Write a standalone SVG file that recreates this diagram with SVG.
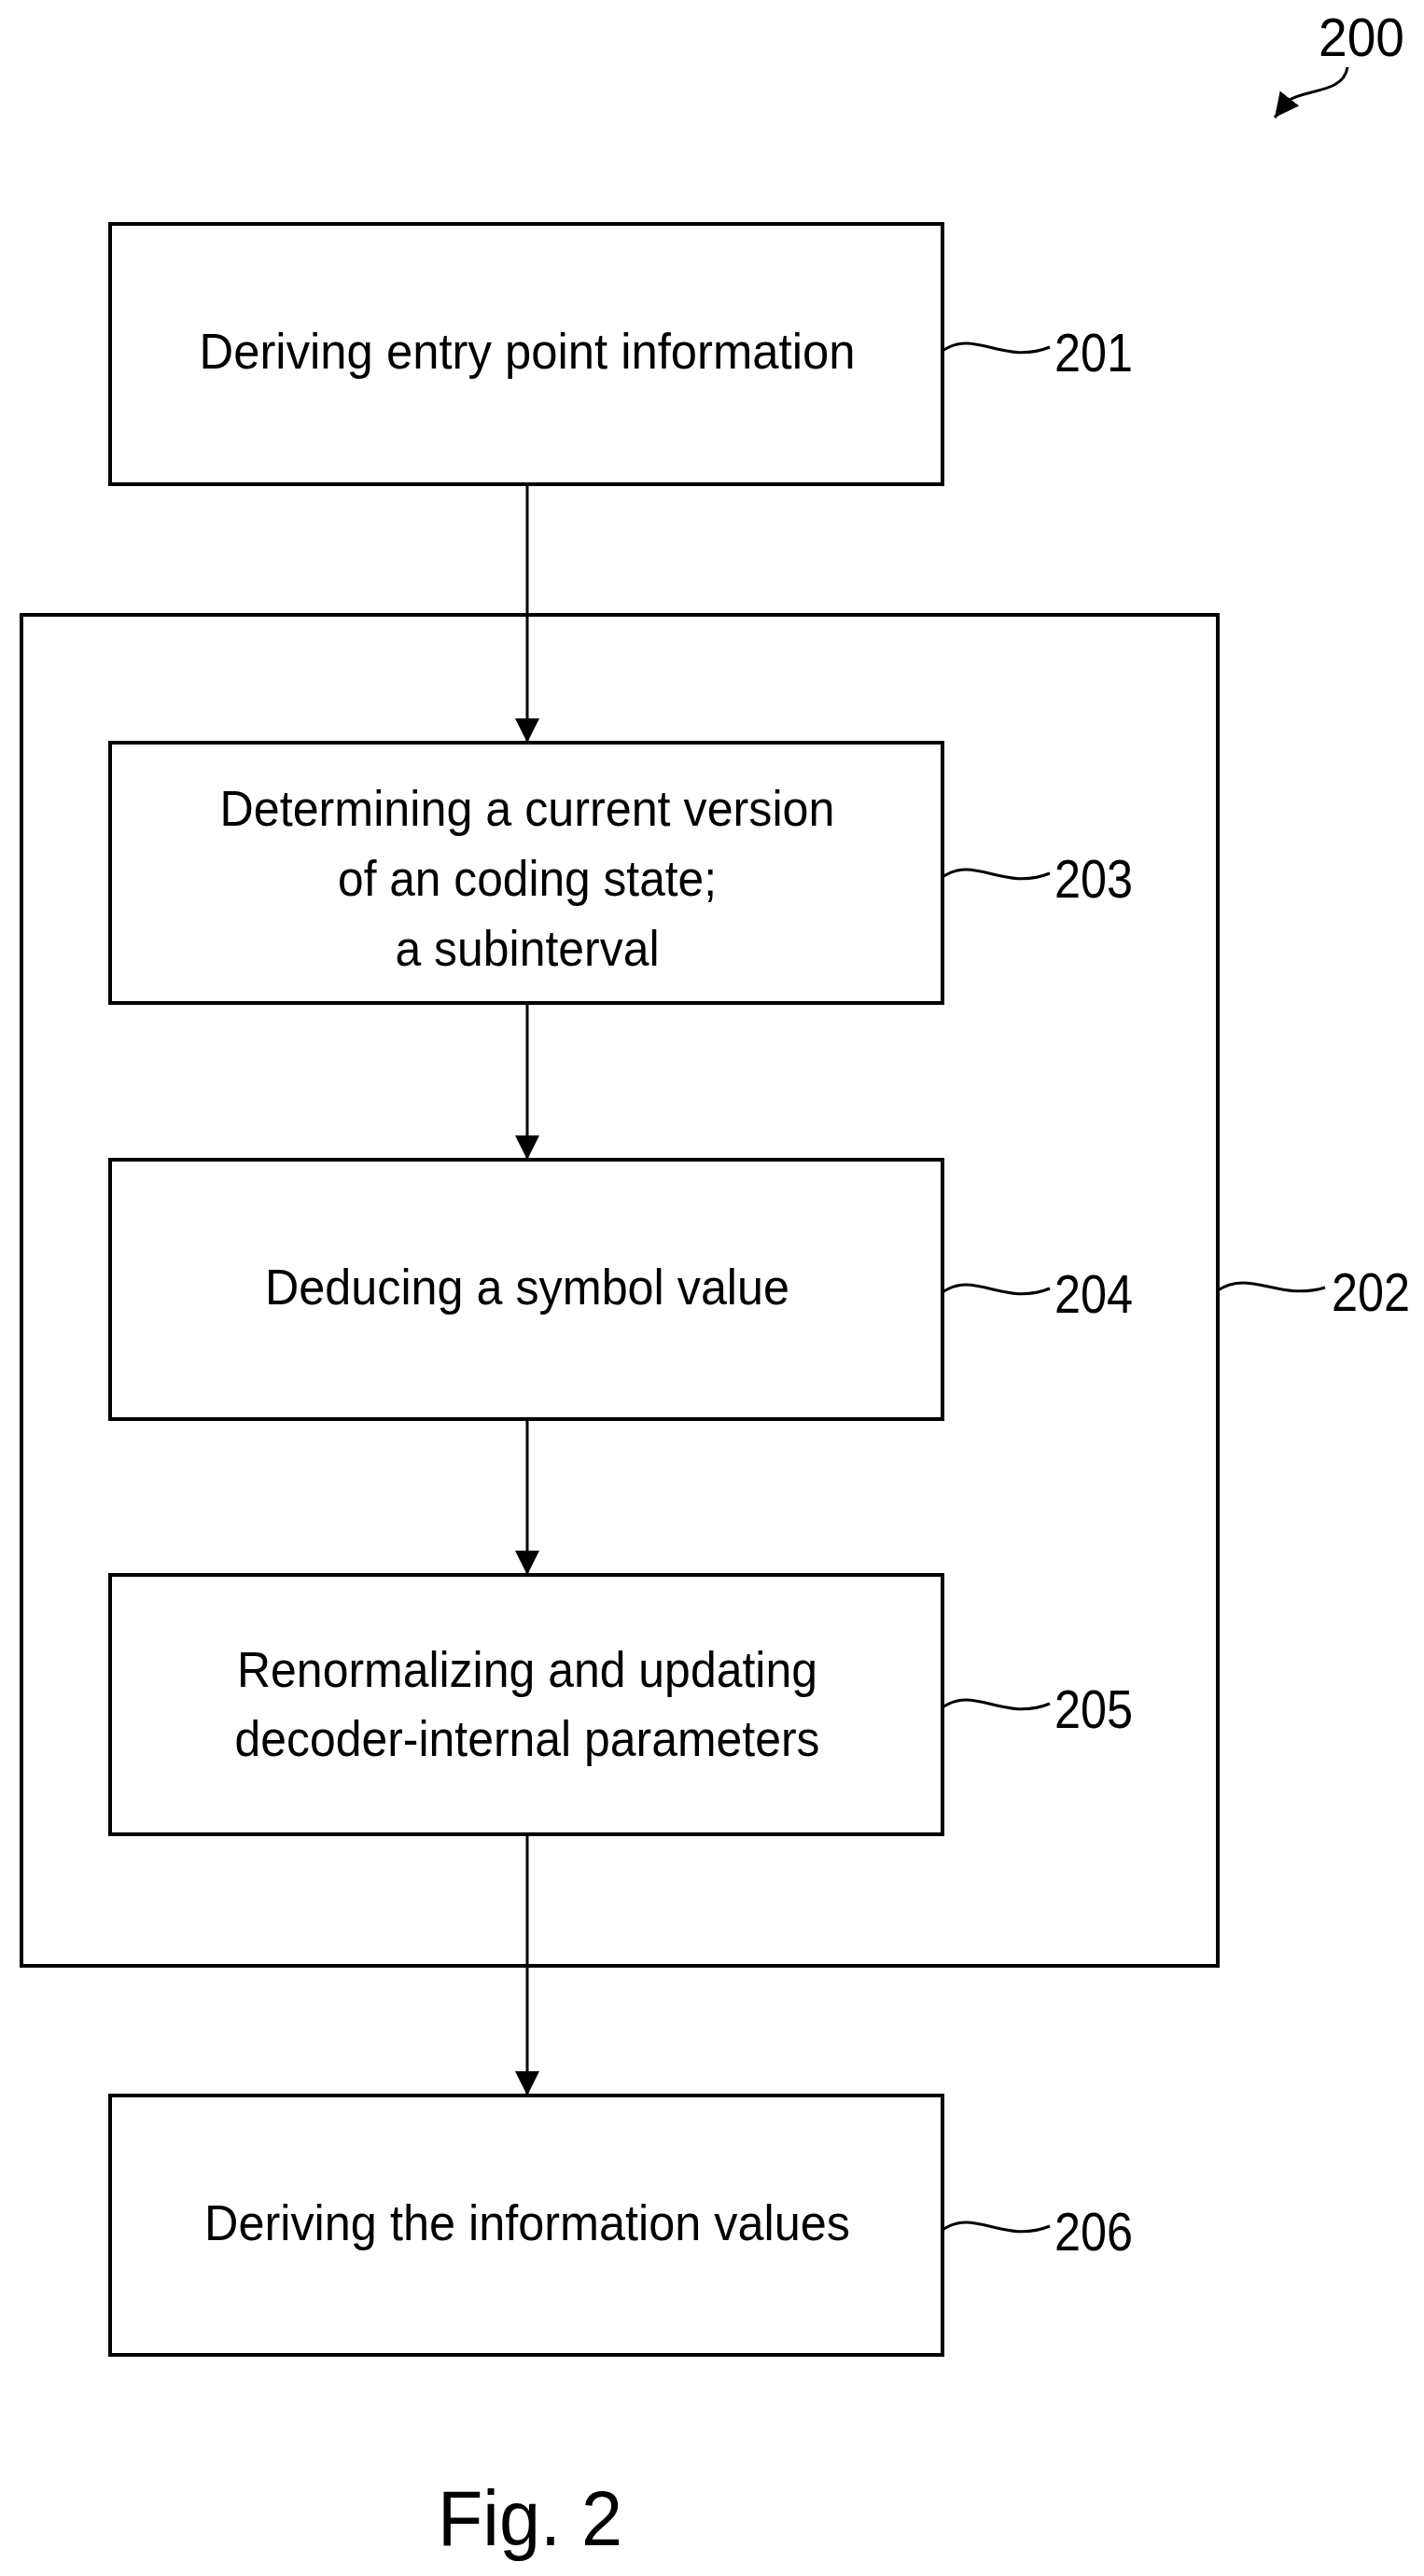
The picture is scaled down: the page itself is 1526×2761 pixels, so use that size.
<svg xmlns="http://www.w3.org/2000/svg" width="1526" height="2761" viewBox="0 0 1526 2761">
<style>
.b{fill:#fff;stroke:#000;stroke-width:4}
.o{fill:none;stroke:#000;stroke-width:4}
.t{font-family:"Liberation Sans",Arial,sans-serif;font-size:54px;text-anchor:middle;fill:#000}
.l{font-family:"Liberation Sans",Arial,sans-serif;font-size:58px;fill:#000}
.c{fill:none;stroke:#000;stroke-width:3}
.s{fill:none;stroke:#000;stroke-width:3}
</style>
<defs><marker id="a" markerWidth="10" markerHeight="12" refX="9" refY="6" orient="auto" markerUnits="userSpaceOnUse" viewBox="0 0 10 12"><path d="M0,0L10,6L0,12z"/></marker>
<marker id="ah" viewBox="0 0 20 20" refX="20" refY="10" markerWidth="26" markerHeight="26" orient="auto" markerUnits="userSpaceOnUse"><path d="M0,0L20,10L0,20z"/></marker></defs>
<rect width="1526" height="2761" fill="#fff"/>
<g id="n202"><rect class="o" x="23" y="659" width="1282" height="1448"/>
<path class="s" d="M1305,1383 C1340,1360 1370,1395 1420,1380"/><text class="l" x="1427" y="1405" textLength="84" lengthAdjust="spacingAndGlyphs">202</text></g>
<g id="connectors">
<line class="c" x1="565" y1="519" x2="565" y2="796" marker-end="url(#ah)"/>
<line class="c" x1="565" y1="1075" x2="565" y2="1243" marker-end="url(#ah)"/>
<line class="c" x1="565" y1="1521" x2="565" y2="1688" marker-end="url(#ah)"/>
<line class="c" x1="565" y1="1966" x2="565" y2="2246" marker-end="url(#ah)"/>
<path class="c" d="M1444,72 C1440,100 1400,95 1380,108 L1366,126" marker-end="url(#ah)"/>
</g>
<g id="n200"><text class="l" x="1413" y="60" textLength="92" lengthAdjust="spacingAndGlyphs">200</text></g>
<g id="n201"><rect class="b" x="118" y="240" width="892" height="279"/>
<text class="t" x="565" y="395" textLength="703" lengthAdjust="spacingAndGlyphs">Deriving entry point information</text>
<path class="s" d="M1010,376 C1045,352 1075,392 1125,372"/><text class="l" x="1130" y="398" textLength="84" lengthAdjust="spacingAndGlyphs">201</text></g>
<g id="n203"><rect class="b" x="118" y="796" width="892" height="279"/>
<text class="t" x="565" y="885" textLength="659" lengthAdjust="spacingAndGlyphs">Determining a current version</text>
<text class="t" x="565" y="960" textLength="406" lengthAdjust="spacingAndGlyphs">of an coding state;</text>
<text class="t" x="565" y="1035" textLength="283" lengthAdjust="spacingAndGlyphs">a subinterval</text>
<path class="s" d="M1010,940 C1045,916 1075,956 1125,936"/><text class="l" x="1130" y="962" textLength="84" lengthAdjust="spacingAndGlyphs">203</text></g>
<g id="n204"><rect class="b" x="118" y="1243" width="892" height="278"/>
<text class="t" x="565" y="1398" textLength="562" lengthAdjust="spacingAndGlyphs">Deducing a symbol value</text>
<path class="s" d="M1010,1385 C1045,1361 1075,1401 1125,1381"/><text class="l" x="1130" y="1407" textLength="84" lengthAdjust="spacingAndGlyphs">204</text></g>
<g id="n205"><rect class="b" x="118" y="1688" width="892" height="278"/>
<text class="t" x="565" y="1808" textLength="622" lengthAdjust="spacingAndGlyphs">Renormalizing and updating</text>
<text class="t" x="565" y="1882" textLength="627" lengthAdjust="spacingAndGlyphs">decoder-internal parameters</text>
<path class="s" d="M1010,1830 C1045,1806 1075,1846 1125,1826"/><text class="l" x="1130" y="1852" textLength="84" lengthAdjust="spacingAndGlyphs">205</text></g>
<g id="n206"><rect class="b" x="118" y="2246" width="892" height="278"/>
<text class="t" x="565" y="2401" textLength="692" lengthAdjust="spacingAndGlyphs">Deriving the information values</text>
<path class="s" d="M1010,2390 C1045,2366 1075,2406 1125,2386"/><text class="l" x="1130" y="2412" textLength="84" lengthAdjust="spacingAndGlyphs">206</text></g>
<g id="fig"><text class="t" x="568" y="2728" style="font-size:84px" textLength="198" lengthAdjust="spacingAndGlyphs">Fig. 2</text></g>
</svg>
